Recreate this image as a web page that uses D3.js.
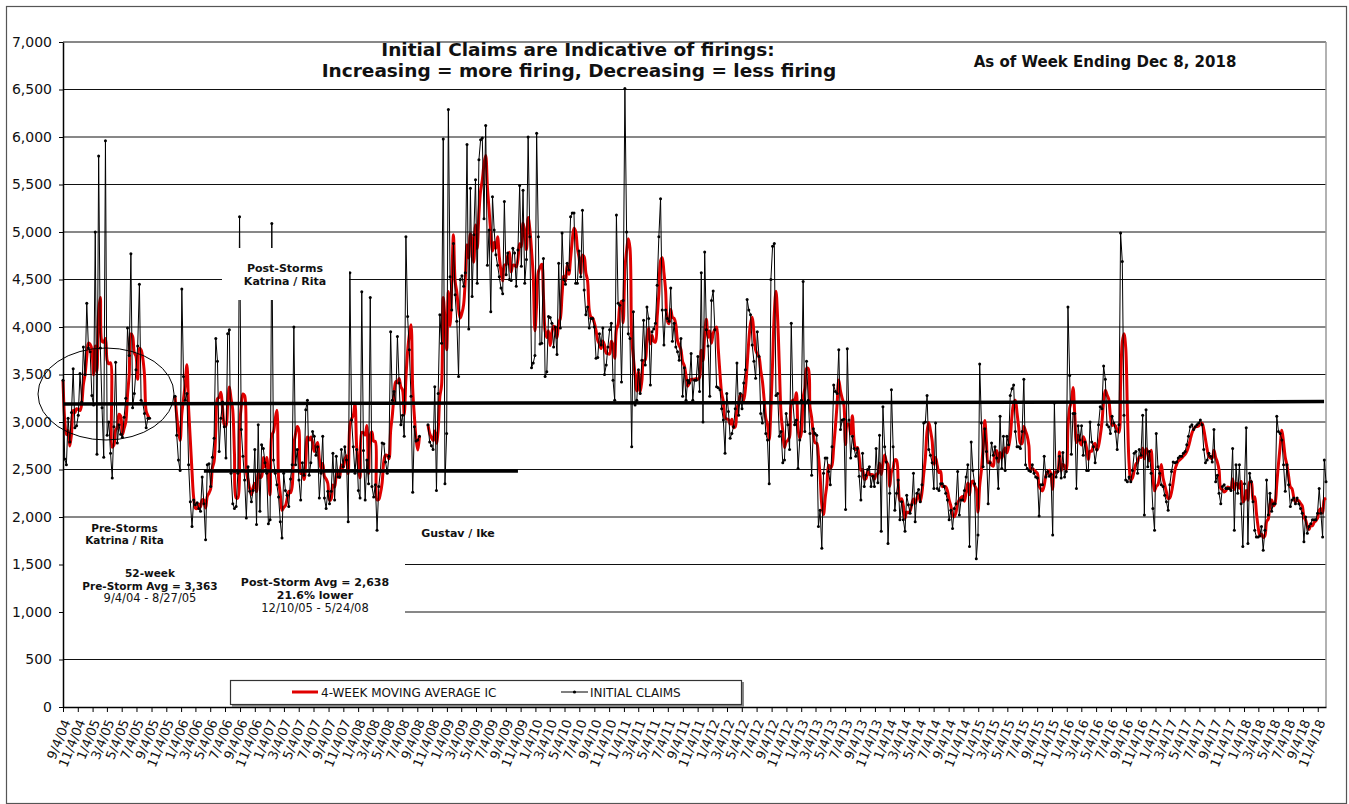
<!DOCTYPE html>
<html>
<head>
<meta charset="utf-8">
<script src="https://cdn.jsdelivr.net/npm/d3@7"></script>
<style>
  body { margin: 0; background: #fff; }
  svg { display: block; font-family: "DejaVu Sans", Verdana, sans-serif; }
</style>
</head>
<body>
<script>
// weekly initial claims, one value per week ending Saturday (first week 9/4/04)
// null = week not plotted (storm weeks)
var claims2004 = [3440, 2610, 2550, 3040, 2790, 3100, 3560, 2940, 2960, 3070, 3510, 3210, 3790, 3500, 4250, 3780, 3740];
var claims2005 = [3280, 3180, 5000, 2660, 5800, 3780, 3150, 2630, 5960, 2860,
  3000, 2670, 2410, 2950, 3630, 2780, 2970, 2870, 2840, 3050,
  3250, 3990, 3700, 4770, 3150, 3300, 3550, 3800, 4450, 3230,
  3200, 3090, 2940, 3040, 3040,
  null, null, null, null, null, null, null, null, null, null, null, null, null, null,
  3270, 2860, 2600, 2490];
var claims2006 = [4400, 3480, 3230, 3300, 2550, 2160, 1900, 2180, 2130, 2150,
  2090, 2060, 2420, 2140, 1760, 2550, 2560, 2320, 2630, 2830,
  3880, 3640, 2690, 3040, 3210, 2950, 2620, 3930, 3970, 2460,
  2140, 2090, 2110, 2460, 5160, 2920, 2640, 2390, 1990, 2530,
  2270, 2160, 2280, 2710, 1920, 2970, 2060, 2760, 2720, 2570,
  2460, 1930];
var claims2007 = [1970, 5090, 2600, 2460, 2340, 2210, 1950, 1780, 2460, 2280,
  2230, 2110, 2400, 2550, 4000, 2550, 2710, 2390, 2180, 2570,
  2440, 3130, 3230, 2440, 2570, 2900, 2850, 2650, 2740, 2200,
  2460, 2850, 2200, 2090, 2270, 2140, 2270, 2670, 2180, 2640,
  2420, 2420, 2710, 2530, 2740, 2600, 1950, 4570, 3020, 2740,
  2460, 2710];
var claims2008 = [2280, 2200, 4370, 2700, 2180, 2600, 2350, 4310, 2320, 2210,
  2340, 1860, 2320, 2480, 2780, 2770, 2580, 2460, 2640, 3950,
  3230, 3320, 3200, 3900, 3410, 2970, 3070, 2850, 4950, 4110,
  3760, 3270, 2260, 2950, 2800, 2810, 2850, null, null, null,
  null, 2970, 2790, 2750, 2710, 3370, 2280, 3300, 4130, 3830,
  5980, 2350];
var claims2009 = [2880, 6290, 4530, 4180, 4880, 4340, 4060, 3480, 4500, 4540,
  4430, 4570, 5920, 3980, 5460, 4320, 4970, 5550, 4460, 5760,
  5970, 5990, 5140, 6120, 4650, 5020, 4160, 5370, 5020, 4760,
  4650, 4530, 4410, 4350, 5320, 4550, 4780, 4500, 4490, 4830,
  4780, 4430, 4810, 5490, 4640, 5440, 4460, 4710, 6000, 4950,
  3570, 3620];
var claims2010 = [3700, 6040, 4950, 3820, 3830, 4720, 3480, 3530, 4110, 4100,
  4040, 3790, 4000, 3710, 4670, 3990, 4990, 4500, 4450, 4670,
  4600, 5160, 5200, 5200, 4460, 4460, 4800, 4530, 5230, 4390,
  4130, 4210, 3990, 4090, 4090, 4000, 3670, 3680, 3930, 3810,
  3990, 3500, 3600, 3790, 3970, 4040, 3440, 3230, 5180, 4250,
  4230, 3420];
var claims2011 = [4280, 6510, 5000, 3930, 3880, 2740, 4160, 3180, 3230, 3550,
  3300, 3650, 4070, 3600, 4210, 4090, 3390, 3950, 3980, 4040,
  4440, 4950, 5350, 4180, 3810, 4180, 4090, 4060, 4410, 3850,
  4040, 3790, 3740, 3650, 3880, 3270, 3570, 3230, 3440, 3410,
  3720, 3230, 3440, 3440, 3690, 3320, 4570, 3000, 4790, 3970,
  3800, 3270, 4280];
var claims2012 = [4380, 3970, 3370, 3360, 3340, 3140, 3020, 2670, 3300, 3110,
  2830, 2880, 2950, 3140, 3620, 3070, 3300, 3140, 3410, 3550,
  4290, 4180, 4130, 3810, 3640, 3460, 3950, 3690, 3090, 2990,
  3200, 2880, 2810, 2350, 4500, 4850, 4880, 3280, 3300, 2850,
  2900, 2570, 2600, 3090, 2970, 2710, 4040, 3200, 2970, 3020,
  2510, 2810];
var claims2013 = [3230, 4480, 2900, 3640, 3230, 2880, 2440, 2930, 2880, 2860,
  1900, 2070, 1670, 2460, 2620, 2620, 2480, 2340, 2740, 3390,
  3320, 3300, 3760, 2920, 3020, 3030, 2080, 3770, 3020, 2620,
  2850, 2720, 2640, 2720, 2430, 2180, 2670, 2320, 2440, 2500,
  2530, 2320, 2430, 2320, 2720, 2360, 2860, 1850, 3160, 2740,
  2580, 1720];
var claims2014 = [2250, 3340, 2740, 2070, 2250, 2390, 1970, 2160, 1970, 1850,
  2230, 2130, 2040, 2130, 2460, 1950, 2250, 2290, 2160, 2340,
  2990, 3000, 3280, 2710, 2650, 2570, 2300, 2990, 2300, 2280,
  2350, 2350, 2320, 2250, 2180, 1970, 2070, 1880, 2090, 2140,
  2480, 2020, 2180, 2180, 2280, 2420, 2550, 1690, 2790, 2490,
  2350, 1560];
var claims2015 = [1810, 3610, 2990, 2530, 2930, 2690, 2140, 2570, 2780, 2650,
  2740, 2620, 2300, 3060, 2510, 2850, 2490, 2850, 2760, 3280,
  3350, 3390, 2900, 2740, 2740, 2720, 2900, 3450, 2550, 2510,
  2490, 2480, 2550, 2460, 2420, 2410, 2010, 2340, 2340, 2640,
  2420, 2480, 2430, 2450, 1810, 3200, 2420, 2480, 2640, 2410,
  2680, 2420];
var claims2016 = [2480, 4210, 3490, 2660, 3090, 3090, 2300, 2960, 2810, 2960,
  2650, 2790, 2490, 2490, 3000, 2790, 2740, 2570, 2710, 2970,
  3160, 3140, 3590, 3450, 2970, 2950, 2880, 3060, 2990, 2900,
  2710, 2970, 4990, 4690, 3070, 2390, 2370, 2420, 2370, 2490,
  2670, 2690, 2460, 2710, 2650, 3070, 2020, 3130, 2530, 2690,
  2460, 2090, 1860];
var claims2017 = [2880, 2530, 2460, 2340, 2320, 2230, 2160, 2070, 2340, 2480,
  2580, 2570, 2580, 2620, 2640, 2640, 2670, 2690, 2760, 2850,
  2950, 2970, 2920, 2950, 2970, 2990, 3020, 2970, 2710, 2570,
  2600, 2670, 2640, 2580, 2920, 2370, 2440, 2250, 2140, 2320,
  2340, 2300, 2300, 2300, 2280, 2720, 1860, 2550, 2250, 2550,
  2140, 1690];
var claims2018 = [2350, 2940, 1720, 2460, 2370, 2160, 1860, 1790, 1790, 1800,
  1900, 1650, 1860, 2390, 2020, 2250, 2060, 2140, 2140, 3060,
  2900, 2880, 2810, 2550, 2270, 2550, 2340, 2110, 2180, 2200,
  2140, 2200, 2140, 2090, 2040, 1740, 2000, 1830, 1900, 1930,
  1970, 1970, 1970, 2040, 2300, 2040, 1790, 2600, 2370];

var firstWeek = new Date(2004, 8, 4);
var lastWeek = new Date(2018, 11, 8);
var yTicks = d3.range(0, 7001, 500);
// x labels: the 4th of every other month from 9/4/04 to 11/4/18
var xTicks = d3.range(86).map(function (k) { return new Date(2004, 8 + 2 * k, 4); });

var claims = [].concat(claims2004, claims2005, claims2006, claims2007, claims2008,
  claims2009, claims2010, claims2011, claims2012, claims2013, claims2014,
  claims2015, claims2016, claims2017, claims2018);

var weeks = claims.map(function (v, i) {
  return { date: d3.timeDay.offset(firstWeek, 7 * i), v: v };
});
// 4-week moving average of the claims (trailing)
var avg4 = weeks.map(function (d, i) {
  if (d.v == null) return { date: d.date, v: null };
  var win = claims.slice(Math.max(0, i - 3), i + 1).filter(function (v) { return v != null; });
  return { date: d.date, v: d3.mean(win) };
});

var svgW = 1349, svgH = 804;
var plotL = 63, plotR = 1326, plotT = 42, plotB = 707;

var svg = d3.select('body').append('svg').attr('width', svgW).attr('height', svgH);

svg.append('rect').attr('x', 6.5).attr('y', 6.5).attr('width', 1340).attr('height', 797)
  .attr('fill', '#fff').attr('stroke', '#555').attr('stroke-width', 1.2);

var x = d3.scaleTime().domain([firstWeek, lastWeek]).range([plotL, plotR]);
var y = d3.scaleLinear().domain([0, 7000]).range([plotB, plotT]);

// gridlines
svg.append('g').selectAll('line')
  .data(yTicks.slice(1))
  .enter().append('line')
  .attr('x1', plotL).attr('x2', plotR)
  .attr('y1', function (d) { return y(d); }).attr('y2', function (d) { return y(d); })
  .attr('stroke', '#111').attr('stroke-width', 1);

svg.append('line').attr('x1', plotR).attr('x2', plotR).attr('y1', plotT).attr('y2', plotB)
  .attr('stroke', '#999').attr('stroke-width', 1.5);

var lineBlack = d3.line()
  .defined(function (d) { return d.v != null; })
  .x(function (d) { return x(d.date); })
  .y(function (d) { return y(d.v); });

var lineRed = d3.line()
  .defined(function (d) { return d.v != null; })
  .x(function (d) { return x(d.date); })
  .y(function (d) { return y(d.v); })
  .curve(d3.curveCatmullRom.alpha(0.5));

svg.append('path').datum(avg4).attr('d', lineRed)
  .attr('fill', 'none').attr('stroke', '#e00000').attr('stroke-width', 3);

svg.append('path').datum(weeks).attr('d', lineBlack)
  .attr('fill', 'none').attr('stroke', '#000').attr('stroke-width', 1);

svg.append('g').selectAll('circle')
  .data(weeks.filter(function (d) { return d.v != null; }))
  .enter().append('circle')
  .attr('cx', function (d) { return x(d.date); })
  .attr('cy', function (d) { return y(d.v); })
  .attr('r', 1.5).attr('fill', '#000');

// label boxes that sit over the plot
svg.append('rect').attr('x', 222).attr('y', 248).attr('width', 127).attr('height', 52).attr('fill', '#fff');
svg.append('rect').attr('x', 64).attr('y', 548).attr('width', 341).attr('height', 76).attr('fill', '#fff');

// average lines
svg.append('line')
  .attr('x1', x(firstWeek)).attr('y1', y(3190))
  .attr('x2', x(d3.timeDay.offset(lastWeek, -8))).attr('y2', y(3215))
  .attr('stroke', '#000').attr('stroke-width', 3.5);
svg.append('line')
  .attr('x1', x(new Date(2006, 3, 8))).attr('y1', y(2484))
  .attr('x2', x(new Date(2009, 9, 24))).attr('y2', y(2484))
  .attr('stroke', '#000').attr('stroke-width', 3.5);

svg.append('ellipse').attr('cx', 106).attr('cy', 394).attr('rx', 68).attr('ry', 46)
  .attr('fill', 'none').attr('stroke', '#000').attr('stroke-width', 1);

// axes
var yAxis = svg.append('g').attr('transform', 'translate(' + plotL + ',0)')
  .call(d3.axisLeft(y).tickValues(yTicks).tickSize(4).tickSizeOuter(0).tickPadding(7).tickFormat(d3.format(',')));
yAxis.selectAll('text').attr('font-size', 14).attr('font-family', '"DejaVu Sans", Verdana, sans-serif').attr('fill', '#111');
yAxis.select('.domain').attr('stroke', '#000').attr('stroke-width', 1.5);

var xAxis = svg.append('g').attr('transform', 'translate(0,' + plotB + ')')
  .call(d3.axisBottom(x).tickValues(xTicks).tickSize(5).tickSizeOuter(0).tickFormat(d3.timeFormat('%-m/%-d/%y')));
xAxis.select('.domain').attr('stroke', '#000').attr('stroke-width', 1.5);
xAxis.selectAll('text')
  .attr('font-size', 13).attr('font-family', '"DejaVu Sans", Verdana, sans-serif').attr('fill', '#111')
  .attr('text-anchor', 'end').attr('x', 0).attr('y', 0).attr('dy', '0.35em')
  .attr('transform', 'translate(3,13) rotate(-68)');

// titles
function label(txt, cx, cy, size, weight) {
  svg.append('text').attr('x', cx).attr('y', cy).attr('text-anchor', 'middle')
    .attr('font-size', size).attr('font-weight', weight || 'bold').attr('fill', '#111').text(txt);
}
label('Initial Claims are Indicative of firings:', 578, 56, 18.5);
label('Increasing = more firing, Decreasing = less firing', 579, 77, 18.5);
label('As of Week Ending Dec 8, 2018', 1105, 67, 15);

label('Post-Storms', 285, 272, 11);
label('Katrina / Rita', 285, 285, 11);
label('Pre-Storms', 124.5, 531.5, 10.5);
label('Katrina / Rita', 124.5, 544, 10.5);
label('52-week', 150, 577, 10.5);
label('Pre-Storm Avg = 3,363', 150, 589.5, 10.5);
label('9/4/04 - 8/27/05', 150, 602, 11.5, 'normal');
label('Post-Storm Avg = 2,638', 315, 586, 11);
label('21.6% lower', 315, 598.5, 11);
label('12/10/05 - 5/24/08', 315, 611.5, 11.5, 'normal');
label('Gustav / Ike', 458, 537, 11);

// legend
svg.append('rect').attr('x', 232).attr('y', 682).attr('width', 512).attr('height', 25).attr('fill', '#888');
svg.append('rect').attr('x', 230.5).attr('y', 680.5).attr('width', 511).attr('height', 24)
  .attr('fill', '#fff').attr('stroke', '#333').attr('stroke-width', 1.2);
svg.append('line').attr('x1', 292).attr('x2', 318).attr('y1', 692).attr('y2', 692)
  .attr('stroke', '#e00000').attr('stroke-width', 3);
svg.append('text').attr('x', 321).attr('y', 697).attr('font-size', 12).attr('fill', '#111')
  .text('4-WEEK MOVING AVERAGE IC');
svg.append('line').attr('x1', 561).attr('x2', 588).attr('y1', 692).attr('y2', 692)
  .attr('stroke', '#000').attr('stroke-width', 1);
svg.append('circle').attr('cx', 574.5).attr('cy', 692).attr('r', 1.6).attr('fill', '#000');
svg.append('text').attr('x', 590).attr('y', 697).attr('font-size', 12).attr('fill', '#111')
  .text('INITIAL CLAIMS');
</script>
</body>
</html>
